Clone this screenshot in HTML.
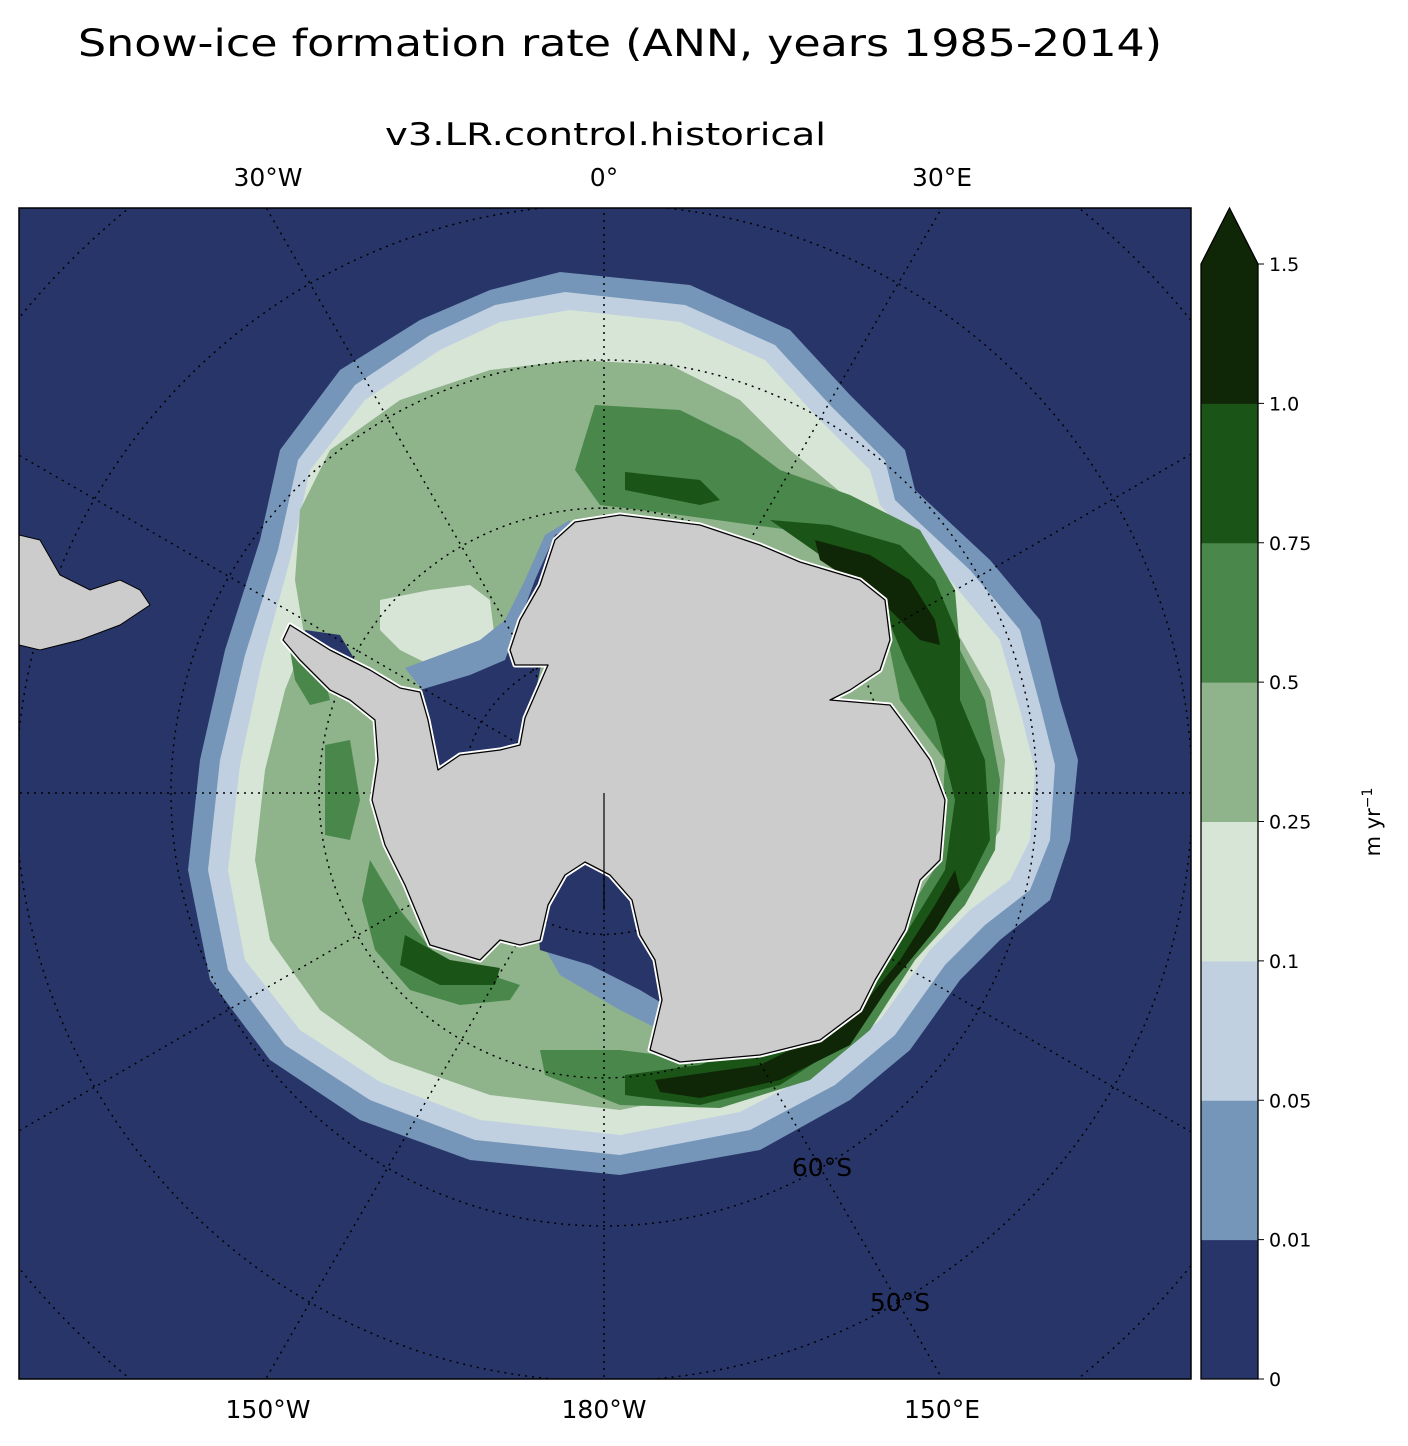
<!DOCTYPE html>
<html><head><meta charset="utf-8"><style>
html,body{margin:0;padding:0;background:#fff;overflow:hidden;width:1408px;height:1446px;}
svg{display:block;font-family:"DejaVu Sans","Liberation Sans",sans-serif;}
</style></head><body>
<svg width="1408" height="1446" viewBox="0 0 1408 1446">
<text x="78" y="56" font-size="37" textLength="1084" lengthAdjust="spacingAndGlyphs">Snow-ice formation rate (ANN, years 1985-2014)</text>
<text x="385" y="145" font-size="31" textLength="441" lengthAdjust="spacingAndGlyphs">v3.LR.control.historical</text>
<defs><clipPath id="mc"><rect x="19" y="208" width="1172" height="1171"/></clipPath></defs>
<g clip-path="url(#mc)">
<rect x="19" y="208" width="1172" height="1171" fill="#283569"/>
<path fill="#7596b9" d="M560,272 L690,285 L790,330 L850,395 L905,450 L915,490 L990,560 L1040,620 L1060,700 L1078,760 L1070,840 L1050,900 L1000,940 L960,980 L910,1050 L850,1100 L760,1150 L620,1175 L470,1160 L360,1120 L270,1060 L210,980 L188,870 L200,760 L225,650 L260,540 L280,450 L340,370 L420,320 L490,290Z"/>
<path fill="#c0d0e0" d="M565,292 L685,305 L775,345 L830,405 L885,460 L895,500 L970,570 L1020,630 L1040,705 L1055,765 L1050,840 L1030,890 L985,925 L945,965 L895,1035 L835,1085 L750,1130 L620,1155 L475,1140 L370,1100 L285,1045 L228,970 L208,870 L220,760 L245,655 L278,550 L298,460 L355,385 L430,335 L495,305Z"/>
<path fill="#d7e5d7" d="M570,310 L680,322 L765,360 L815,415 L870,470 L880,505 L950,580 L1000,640 L1020,710 L1035,770 L1030,840 L1010,880 L970,910 L930,950 L880,1020 L820,1070 L740,1112 L620,1135 L480,1120 L380,1082 L300,1030 L245,960 L228,870 L240,765 L262,662 L290,560 L310,470 L365,400 L440,350 L500,322Z"/>
<path fill="#8fb38b" d="M575,360 L670,365 L740,400 L790,450 L850,500 L900,560 L950,620 L990,690 L1005,760 L1000,830 L975,870 L940,905 L900,960 L850,1020 L790,1060 L720,1090 L620,1110 L490,1095 L390,1060 L320,1010 L270,940 L255,860 L265,770 L285,690 L305,640 L295,580 L300,510 L330,450 L400,400 L490,370Z"/>
<path fill="#d7e5d7" d="M380,600 L430,590 L470,585 L490,600 L495,640 L470,660 L430,665 L400,650 L380,630Z"/>
<path fill="#4a874b" d="M595,405 L680,410 L740,440 L780,470 L850,495 L920,530 L955,590 L960,650 L985,700 L1000,780 L995,850 L965,905 L915,960 L870,1030 L810,1080 L720,1108 L620,1105 L545,1075 L540,1050 L620,1050 L700,1060 L850,995 L900,925 L940,860 L945,760 L900,700 L880,600 L790,530 L680,515 L600,505 L575,470Z"/>
<path fill="#4a874b" d="M370,860 L400,910 L440,960 L490,975 L520,985 L510,1000 L460,1005 L410,990 L375,950 L362,900Z M325,745 L350,740 L360,800 L350,840 L325,835Z M290,650 L320,660 L330,700 L310,705 L295,680Z"/>
<path fill="#1a5517" d="M625,472 L700,480 L720,500 L700,505 L625,490Z M770,520 L830,525 L900,545 L935,580 L960,640 L960,700 L985,760 L990,840 L970,880 L930,930 L890,980 L850,1040 L780,1085 L700,1105 L625,1095 L625,1075 L700,1065 L840,1010 L905,935 L945,870 L955,800 L935,720 L905,660 L880,600 L820,555Z M405,935 L450,960 L500,968 L495,985 L440,985 L400,965Z"/>
<path fill="#0f2706" d="M815,540 L870,555 L910,580 L935,620 L940,645 L920,640 L890,610 L850,580 L820,560Z M655,1080 L760,1065 L850,1020 L900,960 L935,905 L955,870 L960,890 L935,930 L890,985 L850,1045 L780,1080 L700,1098 L660,1092Z"/>
<path fill="#7596b9" d="M405,668 L440,655 L480,640 L505,620 L525,580 L545,535 L570,520 L575,560 L550,620 L525,680 L430,700Z"/>
<path fill="#283569" d="M420,690 L470,675 L505,660 L520,620 L535,580 L555,535 L575,525 L560,600 L540,670 L525,745 L440,775 L415,740Z"/>
<path fill="#7596b9" d="M540,940 L600,965 L650,980 L670,1010 L660,1030 L620,1010 L560,975Z"/>
<path fill="#283569" d="M535,900 L575,860 L620,880 L655,920 L665,960 L665,1005 L640,990 L590,965 L540,950Z"/>
<path fill="#283569" d="M305,630 L340,635 L355,660 L335,670 L310,655Z"/>
<g fill="none" stroke="#000" stroke-width="1.5" stroke-dasharray="2,5" id="grat"></g>
<path fill="none" stroke="#fff" stroke-width="5" stroke-linejoin="round" d="M290,625 L330,650 L370,670 L400,688 L420,692 L428,720 L438,770 L460,755 L500,750 L520,745 L525,718 L535,695 L548,665 L515,665 L510,650 L520,620 L540,585 L555,540 L575,522 L620,515 L700,525 L760,545 L800,562 L860,580 L885,600 L890,640 L880,670 L850,690 L830,700 L890,705 L905,725 L930,760 L945,800 L940,860 L920,880 L905,930 L875,980 L860,1010 L820,1040 L760,1055 L680,1062 L650,1050 L662,1000 L655,960 L640,935 L632,900 L610,875 L585,862 L565,875 L548,905 L540,940 L520,945 L500,940 L480,960 L430,945 L405,885 L385,845 L372,800 L378,760 L375,720 L350,700 L330,690 L300,660 L283,640Z"/>
<path fill="#cccccc" stroke="#000" stroke-width="1.3" stroke-linejoin="round" d="M290,625 L330,650 L370,670 L400,688 L420,692 L428,720 L438,770 L460,755 L500,750 L520,745 L525,718 L535,695 L548,665 L515,665 L510,650 L520,620 L540,585 L555,540 L575,522 L620,515 L700,525 L760,545 L800,562 L860,580 L885,600 L890,640 L880,670 L850,690 L830,700 L890,705 L905,725 L930,760 L945,800 L940,860 L920,880 L905,930 L875,980 L860,1010 L820,1040 L760,1055 L680,1062 L650,1050 L662,1000 L655,960 L640,935 L632,900 L610,875 L585,862 L565,875 L548,905 L540,940 L520,945 L500,940 L480,960 L430,945 L405,885 L385,845 L372,800 L378,760 L375,720 L350,700 L330,690 L300,660 L283,640Z"/>
<path fill="#cccccc" stroke="#000" stroke-width="1" d="M19,535 L40,540 L60,575 L90,590 L120,580 L140,590 L150,605 L120,625 L80,640 L40,650 L19,645Z"/>
<line x1="604" y1="793" x2="604" y2="910" stroke="#000" stroke-width="1.2"/>
</g>
<rect x="19" y="208" width="1172" height="1171" fill="none" stroke="#000" stroke-width="1.5"/>
<g font-size="25" text-anchor="middle">
<text x="268" y="186">30°W</text>
<text x="604" y="186">0°</text>
<text x="942" y="186">30°E</text>
<text x="268" y="1418">150°W</text>
<text x="604" y="1418">180°W</text>
<text x="942" y="1418">150°E</text>
<text x="822" y="1176">60°S</text>
<text x="900" y="1311">50°S</text>
</g>
<g id="cbar"></g>
<text x="1380" y="822" font-size="21" text-anchor="middle" transform="rotate(-90 1380 822)">m yr<tspan dy="-8" font-size="14">−1</tspan></text>
<script>
const levelLabels=["0","0.01","0.05","0.1","0.25","0.5","0.75","1.0","1.5"];
const levelColors=["#283569","#7596b9","#c0d0e0","#d7e5d7","#8fb38b","#4a874b","#1a5517","#0f2706"];
const latCircles=[80,70,60,50,40];
const meridians=[0,30,60,90,120,150];
const NS="http://www.w3.org/2000/svg";
const cb=document.getElementById('cbar');
const cx0=1201,cw=57,cTop=264,cBot=1379;
const seg=(cBot-cTop)/levelColors.length;
levelColors.forEach((c,i)=>{
  const r=document.createElementNS(NS,'rect');
  
  
  r.setAttribute('x',cx0);r.setAttribute('y',cBot-(i+1)*seg);
  r.setAttribute('width',cw);r.setAttribute('height',seg+0.5);r.setAttribute('fill',c);
  cb.appendChild(r);
});
const tri=document.createElementNS(NS,'path');


tri.setAttribute('d',`M${cx0},${cTop} L${cx0+cw/2},208 L${cx0+cw},${cTop}Z`);
tri.setAttribute('fill',levelColors[levelColors.length-1]);
cb.appendChild(tri);
const fr=document.createElementNS(NS,'path');


fr.setAttribute('d',`M${cx0},${cBot} L${cx0},${cTop} L${cx0+cw/2},208 L${cx0+cw},${cTop} L${cx0+cw},${cBot}Z`);
fr.setAttribute('fill','none');fr.setAttribute('stroke','#000');fr.setAttribute('stroke-width','1.3');
cb.appendChild(fr);
levelLabels.forEach((l,i)=>{
  const y=cBot-i*seg;
  const t=document.createElementNS(NS,'line');
  
  
  t.setAttribute('x1',cx0+cw);t.setAttribute('x2',cx0+cw+6);t.setAttribute('y1',y);t.setAttribute('y2',y);t.setAttribute('stroke','#000');
  cb.appendChild(t);
  const tx=document.createElementNS(NS,'text');
  
  
  tx.setAttribute('x',cx0+cw+11);tx.setAttribute('y',y+7);tx.setAttribute('font-size','19');
  tx.textContent=l;cb.appendChild(tx);
});
const g=document.getElementById('grat');
const pcx=604,pcy=793,r60=433;
const rOf=lat=>r60*Math.tan((90-lat)/2*Math.PI/180)/Math.tan(15*Math.PI/180);
latCircles.forEach(lat=>{
  const c=document.createElementNS(NS,'circle');
  
  
  c.setAttribute('cx',pcx);c.setAttribute('cy',pcy);c.setAttribute('r',rOf(lat));
  g.appendChild(c);
});
meridians.forEach(m=>{
  const a=m*Math.PI/180,L=1200;
  const l=document.createElementNS(NS,'line');
  
  
  l.setAttribute('x1',pcx-L*Math.sin(a));l.setAttribute('y1',pcy+L*Math.cos(a));
  l.setAttribute('x2',pcx+L*Math.sin(a));l.setAttribute('y2',pcy-L*Math.cos(a));
  g.appendChild(l);
});
</script>
</svg>
</body></html>
